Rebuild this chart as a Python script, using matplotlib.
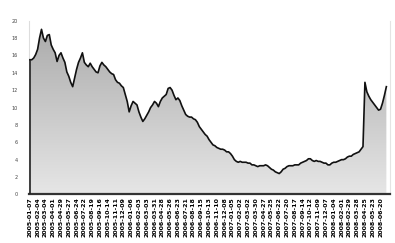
import matplotlib
matplotlib.use("Agg")
import matplotlib.pyplot as plt
import numpy as np
import pandas as pd

# values (weekly series)
values = [
    15.5, 15.5, 15.7, 16.1, 16.7, 18.0, 19.0, 18.0, 17.6, 18.3, 18.4, 17.2, 16.7, 16.3, 15.3,
    16.0, 16.3, 15.7, 15.2, 14.1, 13.6, 12.9, 12.4, 13.4, 14.4, 15.2, 15.7, 16.3, 15.2, 14.9,
    14.7, 15.1, 14.7, 14.4, 14.1, 14.0, 14.8, 15.2, 14.9, 14.7, 14.4, 14.1, 13.9, 13.8, 13.2,
    12.9, 12.8, 12.5, 12.3, 11.5, 10.7, 9.5, 10.2, 10.7, 10.5, 10.3, 9.5, 8.9, 8.4, 8.7,
    9.1, 9.5, 10.0, 10.3, 10.7, 10.5, 10.1, 10.7, 11.1, 11.3, 11.5, 12.2, 12.3, 12.0, 11.4,
    10.9, 11.1, 10.8, 10.2, 9.7, 9.2, 9.0, 8.9, 8.9, 8.7, 8.6, 8.3, 7.8, 7.5, 7.2,
    6.9, 6.7, 6.3, 6.0, 5.7, 5.6, 5.4, 5.3, 5.2, 5.2, 5.1, 4.9, 4.9, 4.7, 4.4,
    4.0, 3.8, 3.7, 3.8, 3.7, 3.7, 3.7, 3.6, 3.6, 3.4, 3.4, 3.3, 3.2, 3.3, 3.3,
    3.3, 3.4, 3.3, 3.1, 2.9, 2.8, 2.6, 2.5, 2.4, 2.6, 2.9, 3.0, 3.2, 3.3, 3.3,
    3.3, 3.4, 3.4, 3.4, 3.6, 3.7, 3.8, 3.9, 4.1, 4.1, 3.9, 3.8, 3.9, 3.8, 3.8,
    3.7, 3.6, 3.6, 3.4, 3.4, 3.6, 3.7, 3.7, 3.8, 3.9, 4.0, 4.0, 4.1, 4.3, 4.4,
    4.4, 4.6, 4.7, 4.8, 4.9, 5.2, 5.5, 12.9, 11.8, 11.3, 10.9, 10.6, 10.3, 10.0, 9.7,
    9.8, 10.5, 11.4, 12.4,
]
dates = pd.date_range("2005-01-07", periods=len(values), freq="7D")
tick_labels = [d.strftime("%Y-%m-%d") for d in dates]
y_ticks = [0, 2, 4, 6, 8, 10, 12, 14, 16, 18, 20]

x = np.arange(len(values))
y = np.array(values)

fig = plt.figure(figsize=(3.95, 2.43), dpi=100)
ax = fig.add_axes([0.073, 0.2, 0.915, 0.715])

# gradient fill under the line
poly = ax.fill_between(x, 0, y, facecolor="none", edgecolor="none")
grad = np.linspace(0, 1, 256).reshape(-1, 1)
img = ax.imshow(grad, extent=[0, len(values) - 1, 0, 20], origin="lower", aspect="auto",
                cmap=matplotlib.colors.LinearSegmentedColormap.from_list("g", ["#e6e6e6", "#a9a9a9"]),
                zorder=1)
img.set_clip_path(poly.get_paths()[0], transform=ax.transData)

ax.plot(x, y, color="#111111", lw=1.2, zorder=3)
ax.plot([0, 0], [0, y[0]], color="#222222", lw=1.2, zorder=3)

ax.set_xlim(-0.5, len(values) + 1)
ax.set_ylim(0, 20)
ax.set_yticks(y_ticks)
ax.set_yticklabels([str(t) for t in y_ticks], fontsize=3.5, color="#444444")
ax.tick_params(axis="y", length=0, pad=8)

step = 4
ax.set_xticks(x[::step])
ax.set_xticklabels(tick_labels[::step], rotation=90, fontsize=4.5, color="#000000",
                   fontweight="bold")
ax.tick_params(axis="x", length=0, pad=2)

ax.spines["top"].set_visible(False)
ax.spines["left"].set_color("#dddddd")
ax.spines["right"].set_color("#e4e4e4")
ax.spines["bottom"].set_color("#333333")
ax.spines["bottom"].set_linewidth(1.6)

fig.savefig("out.png", dpi=100)
